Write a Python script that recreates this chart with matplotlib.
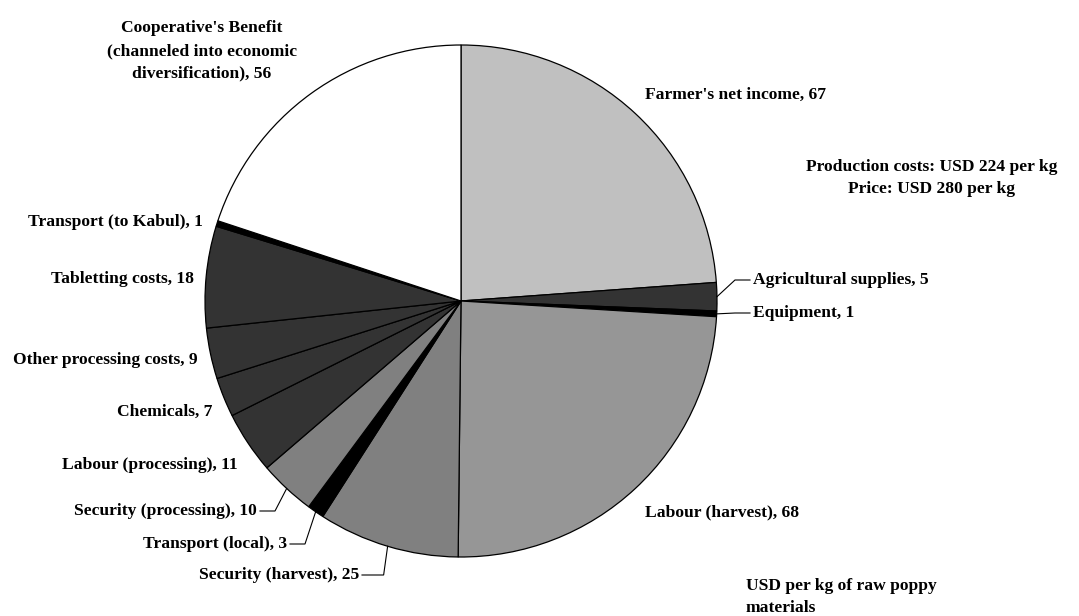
import numpy as np
import matplotlib
matplotlib.use("Agg")
import matplotlib.pyplot as plt

# values in USD per kg of raw poppy materials, clockwise from the top
labels = ["Farmer's net income", "Agricultural supplies", "Equipment",
          "Labour (harvest)", "Security (harvest)", "Transport (local)",
          "Security (processing)", "Labour (processing)", "Chemicals",
          "Other processing costs", "Tabletting costs", "Transport (to Kabul)",
          "Cooperative's Benefit\n(channeled into economic\ndiversification)"]
values = [67, 5, 1, 68, 25, 3, 10, 11, 7, 9, 18, 1, 56]
colors = ["#c0c0c0", "#333333", "#000000", "#969696", "#808080", "#000000",
          "#808080", "#333333", "#333333", "#333333", "#333333", "#000000",
          "#ffffff"]

W, H = 1079, 616
fig = plt.figure(figsize=(W / 100, H / 100), dpi=100)
ax = fig.add_axes([0, 0, 1, 1])

cx, cy, r = 461, H - 301, 256
wedges, _ = ax.pie(values, colors=colors, startangle=90, counterclock=False,
                   center=(cx, cy), radius=r,
                   wedgeprops=dict(edgecolor="black", linewidth=0.9))
ax.set_xlim(0, W)
ax.set_ylim(0, H)
ax.set_aspect("equal")
ax.axis("off")

font = dict(family="Liberation Serif", fontweight="bold", fontsize=12.6, color="black")


def edge(i):
    w = wedges[i]
    a = np.deg2rad((w.theta1 + w.theta2) / 2)
    return cx + r * np.cos(a), cy + r * np.sin(a)


# label layout (pixel coords from top-left): x, y, ha, leader style
layout = [
    (645, 95, "left", None),
    (753, 280, "left", "right"),
    (753, 313, "left", "right"),
    (645, 512, "left", None),
    (359, 575, "right", "down"),
    (287, 544, "right", "left"),
    (257, 511, "right", "left"),
    (238, 465, "right", None),
    (212, 412, "right", None),
    (198, 360, "right", None),
    (194, 279, "right", None),
    (203, 222, "right", None),
    (202, 51, "center", None),
]

for i, (lab, v) in enumerate(zip(labels, values)):
    x, y, ha, lead = layout[i]
    ty = H - y
    ax.text(x, ty, f"{lab}, {v}", ha=ha, va="center", ma="center",
            linespacing=1.55, **font)
    if lead is None:
        continue
    ex, ey = edge(i)
    if lead == "right":
        xs = [ex, 735, x - 3]
        ys = [ey, ty, ty]
    elif lead == "left":
        xs = [ex, x + 18, x + 3]
        ys = [ey, ty, ty]
    else:
        xs = [ex, ex - 4, x + 3]
        ys = [ey, ty, ty]
    ax.plot(xs, ys, color="black", lw=0.8, solid_joinstyle="miter")

ax.text(932, H - 178, "Production costs: USD 224 per kg\nPrice: USD 280 per kg",
        ha="center", va="center", ma="center", linespacing=1.55, **font)
ax.text(746, H - 597, "USD per kg of raw poppy\nmaterials",
        ha="left", va="center", ma="left", linespacing=1.45, **font)

fig.savefig("out.png", dpi=100, facecolor="white")
